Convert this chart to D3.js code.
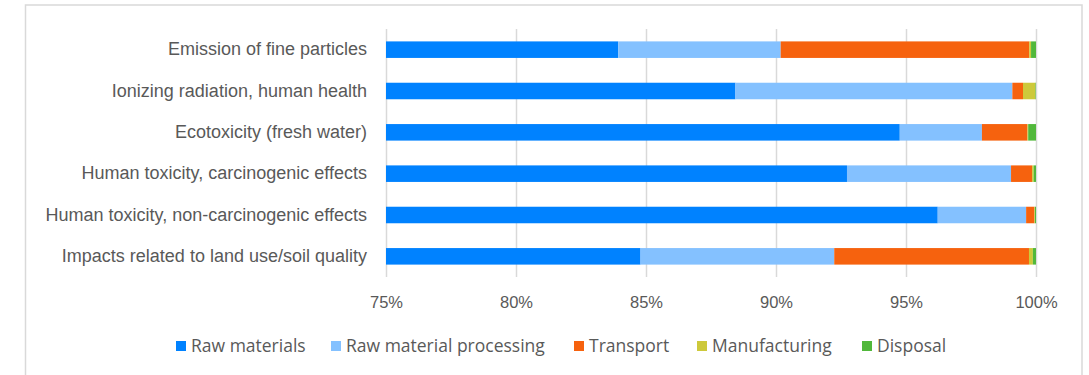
<!DOCTYPE html>
<html>
<head>
<meta charset="utf-8">
<script src="https://cdn.jsdelivr.net/npm/d3@7"></script>
<style>
  body { margin: 0; background: #fff; }
  svg { display: block; font-family: "Open Sans", Lato, sans-serif; }
  .axis text { fill: #595959; }
  .x-axis text { font-size: 16.5px; }
  .y-axis text { font-size: 18px; }
  .legend text { fill: #595959; font-size: 17.5px; }
</style>
</head>
<body>
<div id="chart"></div>
<script>
// impact categories, top to bottom
let categories = [
  "Emission of fine particles",
  "Ionizing radiation, human health",
  "Ecotoxicity (fresh water)",
  "Human toxicity, carcinogenic effects",
  "Human toxicity, non-carcinogenic effects",
  "Impacts related to land use/soil quality"
];

// share of each life cycle stage, in %
let rawMaterials  = [83.93, 88.44, 94.76, 92.73, 96.22, 84.79];
let processing    = [6.25, 10.65, 3.16, 6.31, 3.40, 7.45];
let transport     = [9.56, 0.41, 1.75, 0.81, 0.32, 7.49];
let manufacturing = [0.07, 0.48, 0.03, 0.06, 0.02, 0.15];
let disposal      = [0.19, 0.02, 0.30, 0.09, 0.04, 0.12];

let seriesNames = ["Raw materials", "Raw material processing", "Transport", "Manufacturing", "Disposal"];
let seriesColors = ["#0082FF", "#84C1FF", "#F6620E", "#CDC93B", "#51B83B"];
let xTicks = [75, 80, 85, 90, 95, 100];

let W = 1089, H = 375;
let margin = {top: 29, right: 53, bottom: 98, left: 386};
let width = W - margin.left - margin.right;
let height = H - margin.top - margin.bottom;

let svg = d3.select("#chart").append("svg")
  .attr("width", W)
  .attr("height", H);

// chart frame
svg.append("rect")
  .attr("x", 25.5).attr("y", 5)
  .attr("width", 1082 - 25.5).attr("height", H + 10)
  .attr("fill", "#fff")
  .attr("stroke", "#D9D9D9")
  .attr("stroke-width", 1.5);

let g = svg.append("g")
  .attr("transform", "translate(" + margin.left + "," + margin.top + ")");

// build stacked rows
let allSeries = [rawMaterials, processing, transport, manufacturing, disposal];
let rows = categories.map((c, i) => {
  let row = {category: c};
  seriesNames.forEach((s, j) => row[s] = allSeries[j][i]);
  return row;
});
let stacked = d3.stack().keys(seriesNames)(rows);

let x = d3.scaleLinear().domain([75, 100]).range([0, width]);
let y = d3.scaleBand().domain(categories).range([0, height])
  .paddingInner(0.6).paddingOuter(0.3);

// x axis + grid
let xAxis = d3.axisBottom(x)
  .tickValues(xTicks)
  .tickFormat(d => d + "%")
  .tickSizeInner(-height)
  .tickSizeOuter(0)
  .tickPadding(19);

let xg = g.append("g")
  .attr("class", "axis x-axis")
  .attr("transform", "translate(0," + height + ")")
  .call(xAxis);
xg.select(".domain").remove();
xg.selectAll("line").attr("stroke", "#D9D9D9").attr("stroke-width", 1.5);

// bars
g.selectAll(".series")
  .data(stacked)
  .enter()
  .append("g")
  .attr("class", "series")
  .attr("fill", (d, i) => seriesColors[i])
  .selectAll("rect")
  .data(d => d)
  .enter()
  .append("rect")
  .attr("x", d => x(Math.max(d[0], 75)))
  .attr("width", d => Math.max(0, x(d[1]) - x(Math.max(d[0], 75))))
  .attr("y", d => y(d.data.category))
  .attr("height", y.bandwidth());

// y axis labels
let yAxis = d3.axisLeft(y).tickSize(0).tickPadding(19);
let yg = g.append("g")
  .attr("class", "axis y-axis")
  .call(yAxis);
yg.select(".domain").remove();

// legend
let legendX = [176, 331, 574, 697, 862];
let legend = svg.append("g").attr("class", "legend");
let items = legend.selectAll("g")
  .data(seriesNames)
  .enter()
  .append("g")
  .attr("transform", (d, i) => "translate(" + legendX[i] + ",341)");
items.append("rect")
  .attr("width", 10).attr("height", 10)
  .attr("fill", (d, i) => seriesColors[i]);
items.append("text")
  .attr("x", 15)
  .attr("y", 10.5)
  .text(d => d);
</script>
</body>
</html>
